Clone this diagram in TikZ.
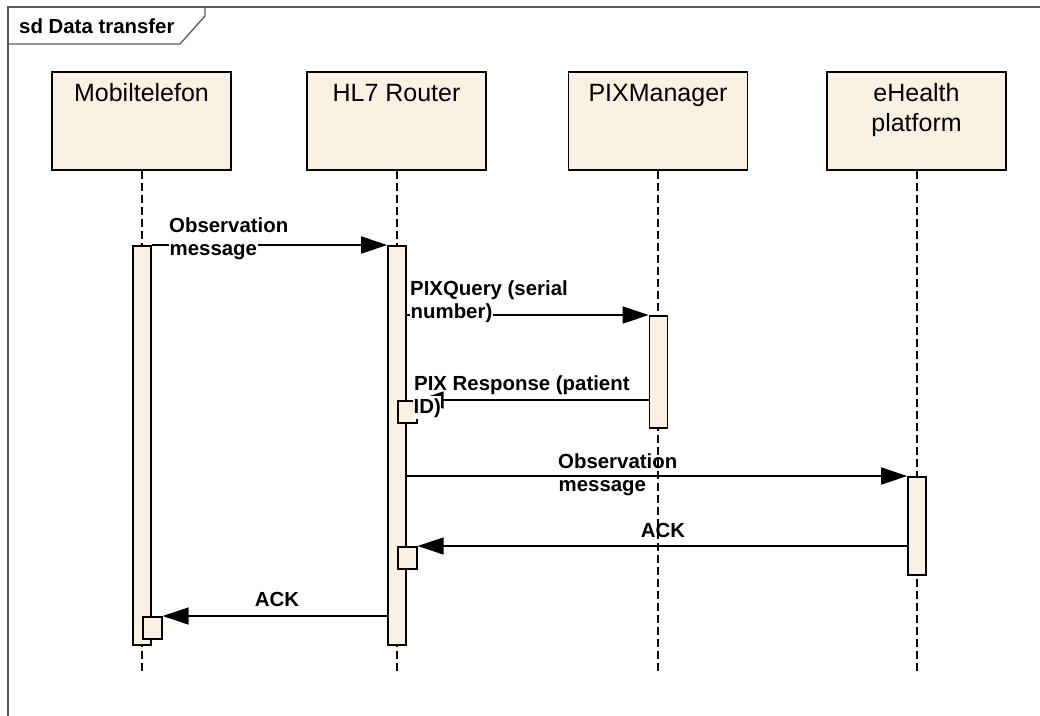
\documentclass[tikz,border=0pt]{standalone}
\usepackage{fontspec}
\setmainfont{Liberation Sans}
\usetikzlibrary{arrows.meta}
\definecolor{lifefill}{RGB}{251,241,227}
\definecolor{framegray}{RGB}{90,90,90}
\begin{document}
\begin{tikzpicture}[x=1pt,y=-1pt,
 headbox/.style={draw=black, line width=1.6pt, fill=lifefill, minimum width=179pt, minimum height=98pt, inner sep=0pt, anchor=north},
 headtxt/.style={font=\fontsize{25}{30}\selectfont, inner sep=0pt, anchor=base, align=center},
 lifeline/.style={draw=black, line width=2pt, dash pattern=on 8pt off 4pt},
 actbar/.style={draw=black, line width=1.6pt, fill=lifefill, minimum width=18pt, inner sep=0pt, anchor=north},
 smallbox/.style={actbar, minimum width=19pt, minimum height=22pt, anchor=north west},
 msg/.style={draw=black, line width=1.5pt, -{Triangle[length=26pt,width=17pt]}},
 lbl/.style={font=\fontsize{20.4}{23}\selectfont\bfseries, inner sep=0pt, anchor=base west},
 lblw/.style={lbl, fill=white, inner xsep=0.5pt, inner ysep=2pt},
 framestyle/.style={draw=framegray, line width=1.3pt}
]
\useasboundingbox (0,0) rectangle (1040,715);
\clip (0,0) rectangle (1040,715);
% frame
\draw[framestyle] (8,7) rectangle (1060,730);
\draw[framestyle] (8,44) -- (180,44) -- (205,16) -- (205,7);
\node[lbl] (title) at (19,33) {sd Data transfer};
% lifeline heads
\node[headbox] (mob) at (141.5,71) {};
\node[headtxt] (mobt) at (141.5,101) {Mobiltelefon};
\node[headbox] (hl7) at (396.5,71) {};
\node[headtxt] (hl7t) at (396.5,101) {HL7 Router};
\node[headbox] (pix) at (658,71) {};
\node[headtxt] (pixt) at (658,101) {PIXManager};
\node[headbox] (eh) at (916.5,71) {};
\node[headtxt] (eht) at (916.5,131) {eHealth\\platform};
% lifelines
\coordinate (bottom) at (0,671);
\draw[lifeline] (mob.south) -- (mob.south |- bottom);
\draw[lifeline] (hl7.south) -- (hl7.south |- bottom);
\draw[lifeline] (pix.south) -- (pix.south |- bottom);
\draw[lifeline] (eh.south) -- (eh.south |- bottom);
% activation bars
\node[actbar, minimum height=399pt] (mobA) at (142,245) {};
\node[actbar, minimum height=399pt] (hlA) at (397,245) {};
\node[actbar, minimum height=112pt] (pixA) at (658.5,315) {};
\node[actbar, minimum height=98pt] (ehA) at (917,476) {};
\node[smallbox] (hlS1) at (397,400) {};
\node[smallbox] (hlS2) at (397,546) {};
\node[smallbox] (mobS) at (142,616) {};
% messages
\draw[msg] (mobA.north east) -- (hlA.north west);
\draw[msg] (hlA.east |- pixA.north) -- (pixA.north west);
\draw[msg] (pixA.west |- hlS1.north) -- (hlS1.north east);
\draw[msg] (hlA.east |- ehA.north) -- (ehA.north west);
\draw[msg] (ehA.west |- hlS2.north) -- (hlS2.north east);
\draw[msg] (hlA.west |- mobS.north) -- (mobS.north east);
% labels
\node[lbl] (l1a) at (169,232) {Observation};
\node[lblw] (l1b) at (169,255) {message};
\node[lbl] (l2a) at (410,295) {PIXQuery (serial};
\node[lblw] (l2b) at (410,318) {number)};
\node[lbl] (l3a) at (414,390) {PIX Response (patient};
\node[lblw] (l3b) at (413,413) {ID)};
\node[lbl] (l4a) at (558,468) {Observation};
\node[lblw] (l4b) at (558,491) {message};
\node[lbl, anchor=base] (l5) at (663,537) {ACK};
\node[lbl, anchor=base] (l6) at (277,606) {ACK};
\end{tikzpicture}
\end{document}
